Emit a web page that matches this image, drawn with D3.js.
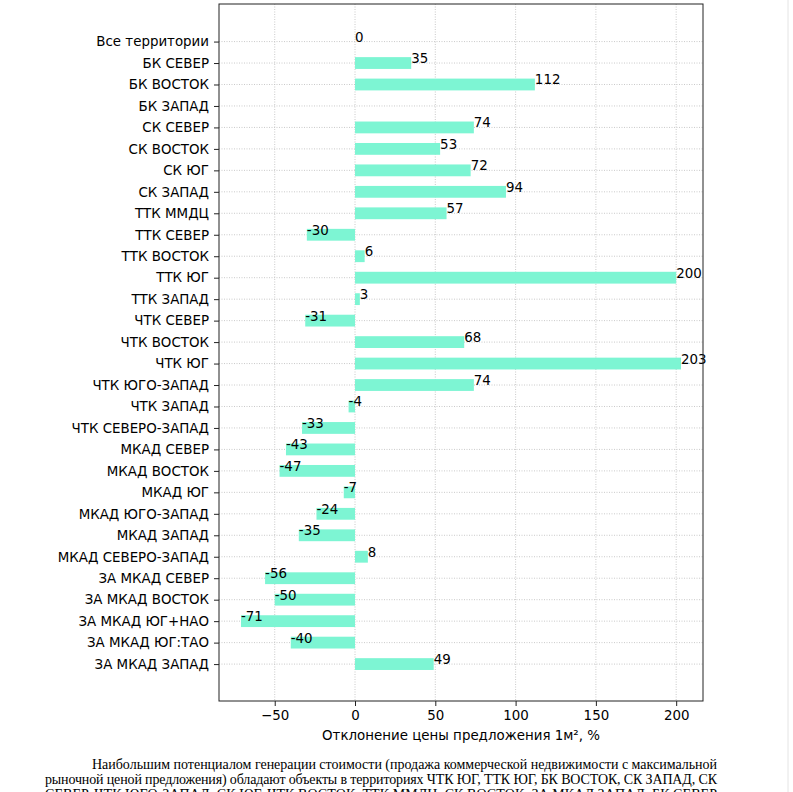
<!DOCTYPE html>
<html>
<head>
<meta charset="utf-8">
<script src="https://cdn.jsdelivr.net/npm/d3@7"></script>
<style>
  body { margin: 0; background: #fff; }
  svg { display: block; }
</style>
</head>
<body>
<div id="plotspace"></div>
<script>
var categories = ["Все территории", "БК СЕВЕР", "БК ВОСТОК", "БК ЗАПАД", "СК СЕВЕР", "СК ВОСТОК",
    "СК ЮГ", "СК ЗАПАД", "ТТК ММДЦ", "ТТК СЕВЕР", "ТТК ВОСТОК", "ТТК ЮГ", "ТТК ЗАПАД",
    "ЧТК СЕВЕР", "ЧТК ВОСТОК", "ЧТК ЮГ", "ЧТК ЮГО-ЗАПАД", "ЧТК ЗАПАД", "ЧТК СЕВЕРО-ЗАПАД",
    "МКАД СЕВЕР", "МКАД ВОСТОК", "МКАД ЮГ", "МКАД ЮГО-ЗАПАД", "МКАД ЗАПАД", "МКАД СЕВЕРО-ЗАПАД",
    "ЗА МКАД СЕВЕР", "ЗА МКАД ВОСТОК", "ЗА МКАД ЮГ+НАО", "ЗА МКАД ЮГ:ТАО", "ЗА МКАД ЗАПАД"];
// null = нет данных (БК ЗАПАД)
var values = [0, 35, 112, null, 74, 53, 72, 94, 57, -30, 6, 200, 3, -31, 68, 203, 74, -4, -33,
    -43, -47, -7, -24, -35, 8, -56, -50, -71, -40, 49];
var xTicks = [-50, 0, 50, 100, 150, 200];
var xLabel = "Отклонение цены предложения 1м², %";
var captionLines = [
    "Наибольшим потенциалом генерации стоимости (продажа коммерческой недвижимости с максимальной",
    "рыночной ценой предложения) обладают объекты в территориях ЧТК ЮГ, ТТК ЮГ, БК ВОСТОК, СК ЗАПАД, СК",
    "СЕВЕР, ЧТК ЮГО-ЗАПАД, СК ЮГ, ЧТК ВОСТОК, ТТК ММДЦ, СК ВОСТОК, ЗА МКАД ЗАПАД, БК СЕВЕР"
];

(function() {
    var width = 793, height = 792;
    var pLeft = 219, pRight = 703, pTop = 4, pBottom = 701;
    var barColor = "#7df5d3";
    var font = "'DejaVu Sans', sans-serif";
    var fsize = 13.4;
    var gridColor = "#c4c4c4";

    var svg = d3.select("#plotspace").
        append("svg").
        attr("width", width).
        attr("height", height);

    var x = d3.scaleLinear().domain([-84.7, 216.7]).range([pLeft, pRight]);
    var y = d3.scaleLinear().domain([-1.75, categories.length - 1 + 1.72]).range([pTop, pBottom]);
    var barH = (y(1) - y(0)) * 0.55;

    // grid
    svg.append("g").selectAll("line").
        data(xTicks).
        enter().append("line").
        attr("x1", function(d) { return x(d); }).
        attr("x2", function(d) { return x(d); }).
        attr("y1", pTop).attr("y2", pBottom).
        attr("stroke", gridColor).attr("stroke-width", 0.9).
        attr("stroke-dasharray", "1,1.5");
    svg.append("g").selectAll("line").
        data(categories).
        enter().append("line").
        attr("x1", pLeft).attr("x2", pRight).
        attr("y1", function(d, i) { return y(i); }).
        attr("y2", function(d, i) { return y(i); }).
        attr("stroke", gridColor).attr("stroke-width", 0.9).
        attr("stroke-dasharray", "1,1.5");

    // bars
    var rows = values.map(function(v, i) { return {v: v, i: i}; });
    svg.append("g").selectAll("rect").
        data(rows.filter(function(r) { return r.v !== null && r.v !== 0; })).
        enter().append("rect").
        attr("x", function(r) { return x(Math.min(0, r.v)); }).
        attr("y", function(r) { return y(r.i) - barH / 2; }).
        attr("width", function(r) { return Math.abs(x(r.v) - x(0)); }).
        attr("height", barH).
        attr("fill", barColor);

    // value labels
    svg.append("g").selectAll("text").
        data(rows.filter(function(r) { return r.v !== null; })).
        enter().append("text").
        attr("x", function(r) { return x(r.v); }).
        attr("y", function(r) { return y(r.i); }).
        attr("font-family", font).
        attr("font-size", fsize).
        attr("fill", "#000").
        text(function(r) { return r.v; });

    // frame
    svg.append("rect").
        attr("x", pLeft).attr("y", pTop).
        attr("width", pRight - pLeft).attr("height", pBottom - pTop).
        attr("fill", "none").attr("stroke", "#222").attr("stroke-width", 1);

    // axes
    var xAxis = d3.axisBottom(x).tickValues(xTicks).tickSize(5).tickPadding(4).
        tickFormat(function(d) { return d < 0 ? "\u2212" + Math.abs(d) : d; });
    var gx = svg.append("g").attr("transform", "translate(0," + pBottom + ")").call(xAxis);
    gx.select(".domain").remove();
    gx.selectAll("text").attr("font-family", font).attr("font-size", fsize).attr("fill", "#000");
    gx.selectAll("line").attr("stroke", "#222");

    var yAxis = d3.axisLeft(y).tickValues(d3.range(categories.length)).tickSize(5).tickPadding(5).
        tickFormat(function(d) { return categories[d]; });
    var gy = svg.append("g").attr("transform", "translate(" + pLeft + ",0)").call(yAxis);
    gy.select(".domain").remove();
    gy.selectAll("text").attr("font-family", font).attr("font-size", fsize).attr("fill", "#000");
    gy.selectAll("line").attr("stroke", "#222");

    svg.append("text").
        attr("x", (pLeft + pRight) / 2).
        attr("y", 740).
        attr("text-anchor", "middle").
        attr("font-family", font).
        attr("font-size", fsize).
        text(xLabel);

    // page edge
    svg.append("line").
        attr("x1", 788).attr("x2", 788).attr("y1", 0).attr("y2", height).
        attr("stroke", "#e4e4e4");

    // caption
    var capStarts = [92, 45, 45];
    var capBase = [769, 784, 799];
    captionLines.forEach(function(line, i) {
        svg.append("text").
            attr("x", capStarts[i]).
            attr("y", capBase[i]).
            attr("font-family", "'Liberation Serif', 'Times New Roman', serif").
            attr("font-size", 14).
            attr("textLength", 717 - capStarts[i]).
            attr("lengthAdjust", "spacing").
            text(line);
    });
}());
</script>
</body>
</html>
